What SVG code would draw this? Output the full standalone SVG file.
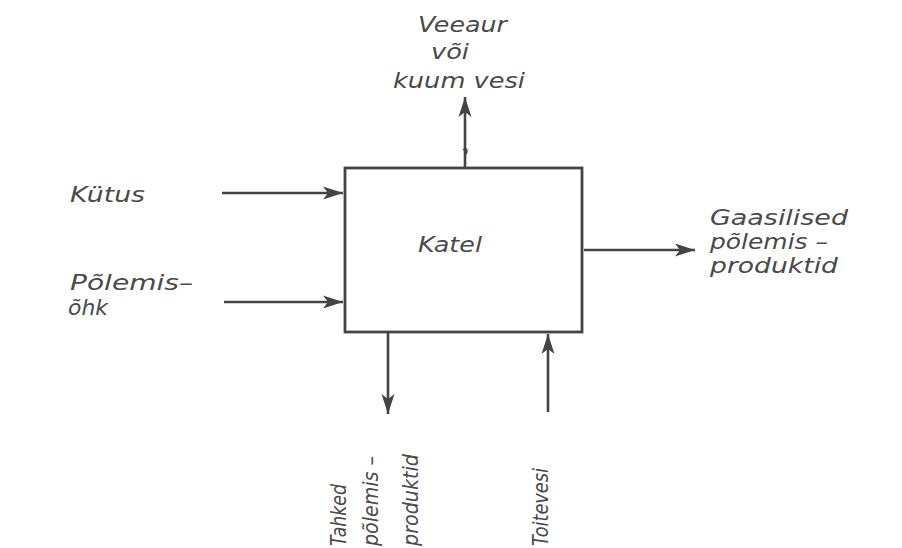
<svg xmlns="http://www.w3.org/2000/svg" width="902" height="548" viewBox="0 0 902 548">
<style>
.t{font-family:"DejaVu Sans","Liberation Sans",Arial,sans-serif;font-style:italic;font-size:22px;fill:#4a4a4a}
.v{font-size:22px}
.l{stroke:#444;stroke-width:2.6;fill:none}
</style>
<defs>
<marker id="ah" markerUnits="userSpaceOnUse" markerWidth="22" markerHeight="14" refX="20" refY="7" orient="auto">
<path d="M0,0.5 L20,7 L0,13.5 L5,7 Z" fill="#444"/>
</marker>
</defs>
<rect width="902" height="548" fill="#fff"/>
<g id="katel">
<rect x="345" y="168" width="237" height="164" fill="none" stroke="#444" stroke-width="2.8"/>
<text class="t" x="418" y="252" textLength="64" lengthAdjust="spacingAndGlyphs">Katel</text>
</g>
<g id="connectors">
<path class="l" d="M222,193 H343" marker-end="url(#ah)"/>
<path class="l" d="M224,302 H343" marker-end="url(#ah)"/>
<path class="l" d="M584,250 H695" marker-end="url(#ah)"/>
<path class="l" d="M465,167 V97" marker-end="url(#ah)"/>
<path d="M463,150 q4,-3 4,1 q0,3 -3,4" stroke="#444" stroke-width="1.5" fill="none"/>
<path class="l" d="M388,333 V414" marker-end="url(#ah)"/>
<path class="l" d="M548,412 V334" marker-end="url(#ah)"/>
</g>
<g id="label-veeaur">
<text class="t" x="418" y="32" textLength="89" lengthAdjust="spacingAndGlyphs">Veeaur</text>
<text class="t" x="431" y="59" textLength="38" lengthAdjust="spacingAndGlyphs">või</text>
<text class="t" x="393" y="88" textLength="132" lengthAdjust="spacingAndGlyphs">kuum vesi</text>
</g>
<g id="label-kutus">
<text class="t" x="70" y="202" textLength="75" lengthAdjust="spacingAndGlyphs">Kütus</text>
</g>
<g id="label-polemisohk">
<text class="t" x="70" y="290" textLength="123" lengthAdjust="spacingAndGlyphs">Põlemis–</text>
<text class="t" x="68" y="315" textLength="40" lengthAdjust="spacingAndGlyphs">õhk</text>
</g>
<g id="label-gaasilised">
<text class="t" x="710" y="225" textLength="138" lengthAdjust="spacingAndGlyphs">Gaasilised</text>
<text class="t" x="710" y="249" textLength="118" lengthAdjust="spacingAndGlyphs">põlemis –</text>
<text class="t" x="710" y="273" textLength="128" lengthAdjust="spacingAndGlyphs">produktid</text>
</g>
<g id="label-tahked">
<text class="t v" transform="translate(346,546) rotate(-90)" textLength="62" lengthAdjust="spacingAndGlyphs">Tahked</text>
<text class="t v" transform="translate(378,546) rotate(-90)" textLength="90" lengthAdjust="spacingAndGlyphs">põlemis –</text>
<text class="t v" transform="translate(418,546) rotate(-90)" textLength="92" lengthAdjust="spacingAndGlyphs">produktid</text>
</g>
<g id="label-toitevesi">
<text class="t v" transform="translate(548,546) rotate(-90)" textLength="78" lengthAdjust="spacingAndGlyphs">Toitevesi</text>
</g>
</svg>
